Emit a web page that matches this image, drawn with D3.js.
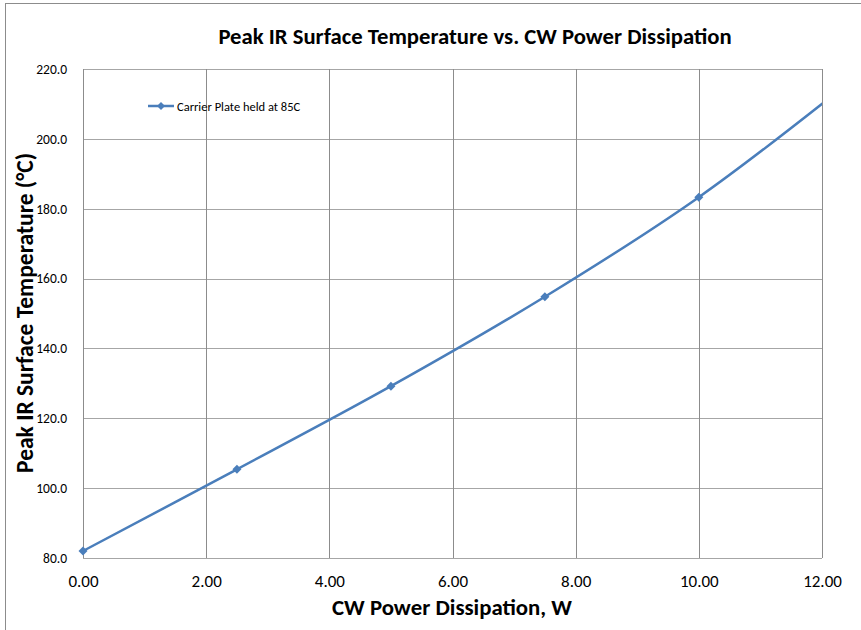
<!DOCTYPE html>
<html><head><meta charset="utf-8">
<script src="https://cdn.jsdelivr.net/npm/d3@7"></script>
<style>body{margin:0;background:#fff}svg{display:block}</style>
</head><body><svg id="c" width="861" height="630"></svg>
<script>
const powerW = [0, 2.5, 5, 7.5, 10, 12.5];
const peakTempC = [82.0, 105.4, 129.2, 154.8, 183.3, 217.0];
const xTicks = [0, 2, 4, 6, 8, 10, 12];
const yTicks = [80, 100, 120, 140, 160, 180, 200, 220];
const seriesName = "Carrier Plate held at 85C";
const titleText = "Peak IR Surface Temperature vs. CW Power Dissipation";
const xTitle = "CW Power Dissipation, W";
const yTitle = "Peak IR Surface Temperature (°C)";

const font = "Carlito, 'Liberation Sans Narrow', 'Open Sans', sans-serif";
const svg = d3.select("#c");
const m = {l:83, r:822, t:69, b:558};
const x = d3.scaleLinear().domain([0,12]).range([m.l,m.r]);
const y = d3.scaleLinear().domain([80,220]).range([m.b,m.t]);
const color = "#4a7ebb";
const diamond = r => `M0,${-r}L${r},0L0,${r}L${-r},0Z`;

svg.append("rect").attr("x",5.5).attr("y",3.5).attr("width",900).attr("height",700)
  .attr("fill","#fff").attr("stroke","#8c8c8c").attr("stroke-width",1);

svg.append("defs").append("clipPath").attr("id","clip").append("rect")
  .attr("x",m.l-6).attr("y",m.t-5).attr("width",m.r-m.l+6).attr("height",m.b-m.t+10);

const g = svg.append("g");
g.selectAll(".hg").data(yTicks).join("line")
  .attr("x1",m.l).attr("x2",m.r).attr("y1",d=>Math.round(y(d))+0.5).attr("y2",d=>Math.round(y(d))+0.5)
  .attr("stroke","#a6a6a6").attr("stroke-width",1);
g.selectAll(".vg").data(xTicks).join("line")
  .attr("y1",m.t).attr("y2",m.b).attr("x1",d=>Math.round(x(d))+0.5).attr("x2",d=>Math.round(x(d))+0.5)
  .attr("stroke","#8c8c8c").attr("stroke-width",1);

const xa = svg.append("g").attr("transform",`translate(0,${m.b})`)
  .call(d3.axisBottom(x).tickValues(xTicks).tickFormat(d3.format(".2f")).tickSize(0).tickPadding(17));
xa.select(".domain").remove();
xa.selectAll("text").attr("font-family",font).attr("font-size",17).attr("fill","#000");
const ya = svg.append("g").attr("transform",`translate(${m.l},0)`)
  .call(d3.axisLeft(y).tickValues(yTicks).tickFormat(d3.format(".1f")).tickSize(0).tickPadding(16));
ya.select(".domain").remove();
ya.selectAll("text").attr("font-family",font).attr("font-size",13.5).attr("fill","#000");

const pts = powerW.map((p,i)=>[p,peakTempC[i]]);
const line = d3.line().x(d=>x(d[0])).y(d=>y(d[1])).curve(d3.curveCatmullRom.alpha(0.5));
const sg = svg.append("g").attr("clip-path","url(#clip)");
sg.append("path").attr("d",line(pts)).attr("fill","none").attr("stroke",color).attr("stroke-width",2.5);
sg.selectAll(".mk").data(pts).join("path")
  .attr("d",diamond(4.5))
  .attr("transform",d=>`translate(${x(d[0])},${y(d[1])})`).attr("fill",color);

// legend
const lg = svg.append("g");
lg.append("line").attr("x1",148).attr("x2",174).attr("y1",106).attr("y2",106).attr("stroke",color).attr("stroke-width",2.5);
lg.append("path").attr("d",diamond(4)).attr("transform","translate(161,106)").attr("fill",color);
lg.append("text").attr("x",177).attr("y",110.5).text(seriesName).attr("font-family",font).attr("font-size",12.5).attr("fill","#000");

svg.append("text").attr("x",475).attr("y",44).attr("text-anchor","middle").text(titleText)
  .attr("font-family",font).attr("font-weight","bold").attr("font-size",22.7).attr("fill","#000");
svg.append("text").attr("x",452).attr("y",615).attr("text-anchor","middle").text(xTitle)
  .attr("font-family",font).attr("font-weight","bold").attr("font-size",22.8).attr("fill","#000");
svg.append("text").attr("transform","translate(33,313) rotate(-90)").attr("text-anchor","middle").text(yTitle)
  .attr("font-family",font).attr("font-weight","bold").attr("font-size",23.5).attr("fill","#000");
</script></body></html>
